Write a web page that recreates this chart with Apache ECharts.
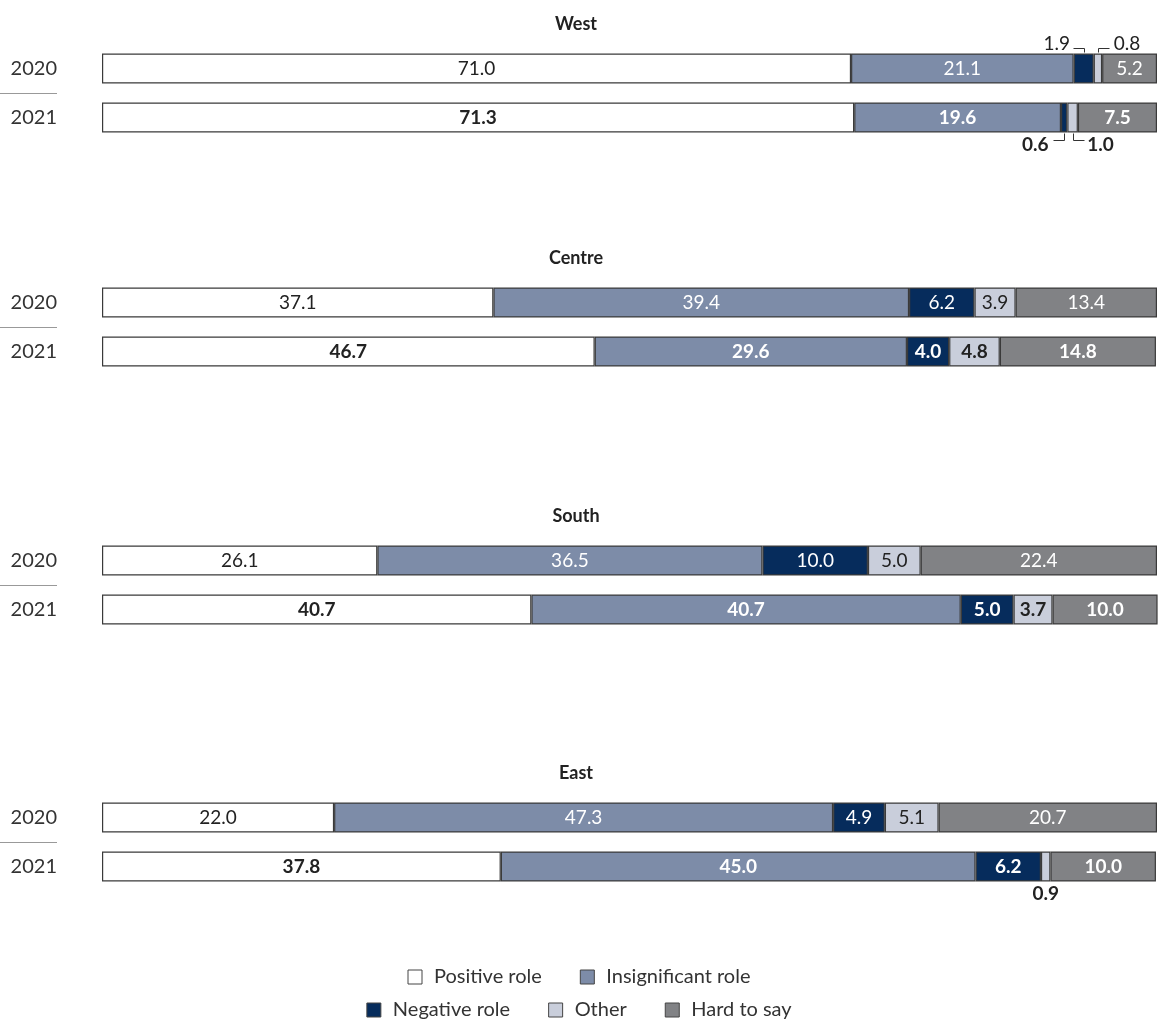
<!DOCTYPE html>
<html>
<head>
<meta charset="utf-8">
<script src="https://cdn.jsdelivr.net/npm/echarts@6/dist/echarts.min.js"></script>
<style>
html,body{margin:0;padding:0;background:#fff;}
#chart{width:1158px;height:1021px;}
</style>
</head>
<body>
<div id="chart"></div>
<script>
// ---- data ----
const regions = ['West', 'Centre', 'South', 'East'];
const years = ['2020', '2021'];
const seriesNames = ['Positive role', 'Insignificant role', 'Negative role', 'Other', 'Hard to say'];
// values per region: [2020, 2021]
const positive      = [[71.0, 71.3], [37.1, 46.7], [26.1, 40.7], [22.0, 37.8]];
const insignificant = [[21.1, 19.6], [39.4, 29.6], [36.5, 40.7], [47.3, 45.0]];
const negative      = [[1.9, 0.6],   [6.2, 4.0],   [10.0, 5.0],  [4.9, 6.2]];
const other         = [[0.8, 1.0],   [3.9, 4.8],   [5.0, 3.7],   [5.1, 0.9]];
const hardToSay     = [[5.2, 7.5],   [13.4, 14.8], [22.4, 10.0], [20.7, 10.0]];

const allValues = [positive, insignificant, negative, other, hardToSay];
const colors = ['#ffffff', '#7d8ca8', '#062c5c', '#c9cedb', '#818285'];
const labelColors = ['#222', '#fff', '#fff', '#222', '#fff'];

// small segments labelled outside the bar: [seriesIdx, regionIdx, yearIdx, side, dx]
const callouts = [
  [2, 0, 0, 'top', -27],
  [3, 0, 0, 'top', 29],
  [2, 0, 1, 'bottom', -29],
  [3, 0, 1, 'bottom', 28],
  [3, 3, 1, 'bottom', 0]
];

const gridTops = [44, 278, 536, 793];
const BAR_H = 30;
const FONT = 'Lato, "Open Sans", sans-serif';

const grids = [], xAxes = [], yAxes = [], series = [], titles = [];
const seriesMeta = [];
regions.forEach((r, ri) => {
  grids.push({ left: 102, right: 1, top: gridTops[ri], height: 98 });
  xAxes.push({ type: 'value', gridIndex: ri, min: 0, max: 100, show: false });
  yAxes.push({
    type: 'category', gridIndex: ri, data: years, inverse: true,
    axisLine: { show: false }, axisTick: { show: false },
    axisLabel: { fontSize: 20, color: '#333', margin: 45, fontFamily: FONT }
  });
  titles.push({
    text: r, left: 571, textAlign: 'center', top: gridTops[ri] - 34,
    textStyle: { fontSize: 18, fontWeight: 'bold', color: '#222', fontFamily: FONT }
  });
  seriesNames.forEach((name, si) => {
    const data = allValues[si][ri].map((v, yi) => {
      const c = callouts.find(c => c[0] === si && c[1] === ri && c[2] === yi);
      const item = {
        value: v,
        label: { fontWeight: yi === 1 ? 'bold' : 'normal' }
      };
      if (c) {
        item.label.position = c[3];
        item.label.distance = c[3] === 'top' ? 0 : 3;
        item.label.color = '#222';
      }
      return item;
    });
    seriesMeta.push({ si, ri });
    series.push({
      name, type: 'bar', stack: 'r' + ri,
      xAxisIndex: ri, yAxisIndex: ri,
      barWidth: BAR_H,
      itemStyle: { color: colors[si], borderColor: '#3a3a3a', borderWidth: 1.2 },
      label: {
        show: true, position: 'inside', color: labelColors[si],
        fontSize: 19, fontFamily: FONT,
        formatter: p => p.value.toFixed(1)
      },
      labelLayout: function (p) {
        const m = seriesMeta[p.seriesIndex];
        const c = callouts.find(c => c[0] === m.si && c[1] === m.ri && c[2] === p.dataIndex);
        if (c && c[4] !== 0) return { dx: c[4] };
        return {};
      },
      emphasis: { disabled: true },
      data
    });
  });
});

const legendCommon = {
  left: 'center', icon: 'rect', itemWidth: 14, itemHeight: 14, itemGap: 38,
  textStyle: { fontSize: 20, color: '#333', fontFamily: FONT, padding: [0, 0, 0, 7] },
  itemStyle: { borderColor: '#444', borderWidth: 1 }
};

const chart = echarts.init(document.getElementById('chart'), null, { renderer: 'canvas' });
chart.setOption({
  animation: false,
  backgroundColor: '#fff',
  title: titles,
  grid: grids,
  xAxis: xAxes,
  yAxis: yAxes,
  legend: [
    Object.assign({}, legendCommon, { top: 962, data: ['Positive role', 'Insignificant role'] }),
    Object.assign({}, legendCommon, { top: 995, data: ['Negative role', 'Other', 'Hard to say'] })
  ],
  series
});

// separator lines between year labels
const graphics = regions.map((r, ri) => {
  const y0 = chart.convertToPixel({ yAxisIndex: ri }, years[0]);
  const y1 = chart.convertToPixel({ yAxisIndex: ri }, years[1]);
  const y = Math.round((y0 + y1) / 2) + 0.5;
  return { type: 'line', shape: { x1: 0, y1: y, x2: 57, y2: y }, style: { stroke: '#999', lineWidth: 1 } };
});
// elbow leader lines for callout labels
callouts.forEach(c => {
  const [si, ri, yi, side, dx] = c;
  if (dx === 0) return;
  let start = 0;
  for (let k = 0; k < si; k++) start += allValues[k][ri][yi];
  const mid = start + allValues[si][ri][yi] / 2;
  const cx = Math.round(chart.convertToPixel({ xAxisIndex: ri }, mid)) + 0.5;
  const cy = chart.convertToPixel({ yAxisIndex: ri }, years[yi]);
  const sign = side === 'top' ? -1 : 1;
  const yEdge = cy + sign * (BAR_H / 2 + 1);
  const yLab = Math.round(cy + sign * (side === 'top' ? 21 : 22)) + 0.5;
  const xEnd = cx + (dx < 0 ? -11 : 11);
  graphics.push({
    type: 'polyline',
    shape: { points: [[cx, yEdge], [cx, yLab], [xEnd, yLab]] },
    style: { stroke: '#333', lineWidth: 1, fill: null }
  });
});
chart.setOption({ graphic: graphics });
</script>
</body>
</html>
